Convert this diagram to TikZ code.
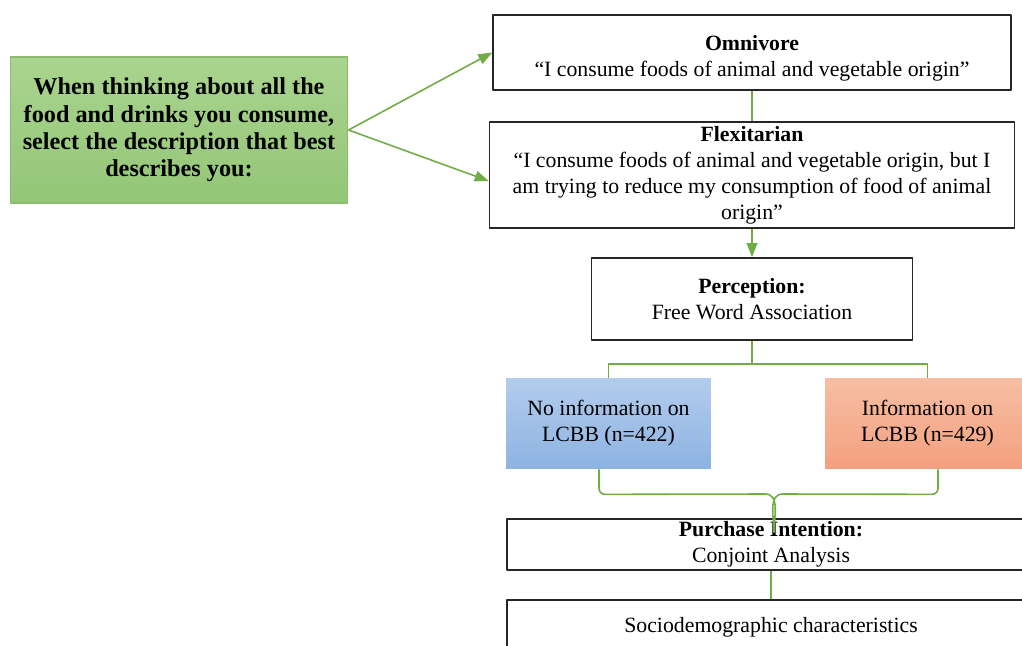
\documentclass[tikz,border=0pt]{standalone}
\usepackage{fontspec}
\setmainfont{Liberation Serif}
\usetikzlibrary{arrows.meta}
\definecolor{lgreen}{HTML}{70AD47}
\definecolor{qtop}{HTML}{AAD48F}
\definecolor{qbot}{HTML}{93C677}
\definecolor{btop}{HTML}{B3CCEC}
\definecolor{bbot}{HTML}{8DB3E2}
\definecolor{otop}{HTML}{F7BEA4}
\definecolor{obot}{HTML}{F3A07E}
\tikzset{
  box/.style={draw=black!85, line width=0.9pt, fill=white, align=center, inner sep=1pt},
  qbox/.style={draw=lgreen!80, line width=0.6pt, top color=qtop, bottom color=qbot, align=center, font=\fontsize{13.8}{15.5}\selectfont\bfseries},
  grp/.style={draw=none, align=center, minimum width=4.1cm, minimum height=1.82cm},
  link/.style={draw=lgreen, line width=0.9pt},
}
\begin{document}
\begin{tikzpicture}[x=0.02cm, y=-0.02cm, font=\fontsize{12.4}{14.8}\selectfont, line join=round, >={Triangle[length=8pt,width=6pt]}]
    \useasboundingbox (0,0) rectangle (1022,646);
    \clip (0,0) rectangle (1022,646);
    \node[qbox, minimum width=6.76cm, minimum height=2.92cm] (q) at (179,130) {When thinking about all the\\food and drinks you consume,\\select the description that best\\describes you:};
    \node[box, minimum width=10.36cm, minimum height=1.5cm] (omni) at (752,52.5) {\rule{0pt}{15pt}\textbf{Omnivore}\\``I consume foods of animal and vegetable origin''};
    \node[box, minimum width=10.5cm, minimum height=2.12cm] (flex) at (752,175) {\textbf{Flexitarian}\\``I consume foods of animal and vegetable origin, but I\\am trying to reduce my consumption of food of animal\\origin''};
    \node[box, minimum width=6.42cm, minimum height=1.64cm] (perc) at (752,299) {\textbf{Perception:}\\Free Word Association};
    \node[grp, top color=btop, bottom color=bbot] (noinfo) at (608.5,423.5) {No information on\\LCBB (n=422)};
    \node[grp, top color=otop, bottom color=obot] (info) at (927.5,423.5) {Information on\\LCBB (n=429)};
    \node[box, inner ysep=0pt, minimum width=10.56cm, minimum height=1.02cm] (purch) at (771,544.5) {\textbf{Purchase Intention:}\\Conjoint Analysis};
    \node[box, minimum width=10.56cm, minimum height=1.08cm] (socio) at (771,627) {Sociodemographic characteristics};
    \draw[link, ->] (q.east) -- (omni.west);
    \draw[link, ->] (q.east) -- ([yshift=-0.12cm]flex.west);
    \draw[link, line width=1.7pt] (omni.south) -- (omni.south |- flex.north);
    \draw[link, line width=1.2pt, ->] (flex.south) -- (perc.north);
    \draw[link, line width=1pt] (perc.south) -- ++(0,23) coordinate (split) -| (noinfo.north);
    \draw[link, line width=1pt] (split) -| (info.north);
    \draw[link] ([xshift=-0.19cm]noinfo.south) -- ++(0,19) to[out=-90, in=180] ++(6,6) -- (765,494) to[out=0, in=90] ([xshift=0.06cm, yshift=-0.28cm]purch.north) -- ([xshift=0.06cm]purch.north);
    \draw[link] ([xshift=0.21cm]info.south) -- ++(0,19) to[out=-90, in=0] ++(-6,6) -- (783,494) to[out=180, in=90] ([xshift=0.06cm, yshift=-0.28cm]purch.north);
    \draw[link, line width=1.4pt] (purch.south) -- (socio.north);
\end{tikzpicture}
\end{document}
